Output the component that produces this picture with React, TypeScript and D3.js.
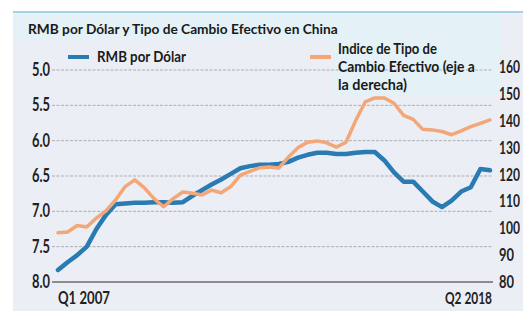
import React from "react";
import * as d3 from "d3";

// quarters Q1 2007 .. Q2 2018 (46 points)
const quarters: string[] = [];
for (let y = 2007; y <= 2018; y++) {
    for (let q = 1; q <= 4; q++) {
        if (y === 2018 && q > 2) break;
        quarters.push(`Q${q} ${y}`);
    }
}

// RMB per USD (left axis, inverted)
const rmbPerDollar = [
    7.83, 7.72, 7.62, 7.5, 7.25, 7.05, 6.9, 6.89, 6.88, 6.88,
    6.87, 6.87, 6.88, 6.87, 6.78, 6.7, 6.62, 6.55, 6.47, 6.39,
    6.36, 6.34, 6.34, 6.33, 6.3, 6.24, 6.2, 6.17, 6.17, 6.19,
    6.19, 6.17, 6.16, 6.16, 6.28, 6.45, 6.58, 6.58, 6.72, 6.86,
    6.94, 6.85, 6.72, 6.66, 6.4, 6.42,
];

// effective exchange rate index (right axis)
const effectiveRate = [
    98.3, 98.6, 101.0, 100.5, 103.8, 106.5, 110.5, 115.5, 118.0, 115.0,
    111.0, 108.0, 111.0, 113.5, 113.0, 112.4, 114.2, 113.2, 115.5, 119.8,
    121.2, 122.5, 122.8, 122.4, 126.5, 130.0, 132.0, 132.5, 131.8, 130.2,
    132.0, 140.0, 147.0, 148.5, 148.5, 146.5, 142.0, 140.5, 136.8, 136.6,
    136.0, 134.8, 136.2, 137.8, 139.0, 140.3,
];

const leftTicks = [5.0, 5.5, 6.0, 6.5, 7.0, 7.5, 8.0];
const rightTicks = [160, 150, 140, 130, 120, 110, 100, 90, 80];
const xLabels = ["Q1 2007", "Q2 2018"];

const title = "RMB por Dólar y Tipo de Cambio Efectivo en China";
const legendBlue = "RMB por Dólar";
const legendOrange = ["Indice de Tipo de", "Cambio Efectivo (eje a", "la derecha)"];

const BLUE = "#2a7bb2";
const ORANGE = "#f3a676";
const FONT = "Lato, 'Open Sans', sans-serif";

const W = 523;
const H = 311;

type Sel = d3.Selection<any, any, any, any>;

// bold text squeezed horizontally to a target width (the original uses a narrow font)
const narrowText = (parent: Sel, str: string, x: number, y: number, size: number, width: number, fill = "#222") => {
    const g = parent.append("g");
    const t = g.append("text")
        .attr("font-family", FONT).attr("font-weight", 700).attr("font-size", size)
        .attr("fill", fill)
        .text(str);
    const natural = (t.node() as SVGTextElement).getComputedTextLength() || width;
    g.attr("transform", `translate(${x},${y}) scale(${width / natural},1)`);
    return g;
};

const App = () => {
    const svgRef = React.useRef<SVGSVGElement>(null);

    React.useEffect(() => {
        const svg = d3.select(svgRef.current);
        svg.selectAll("*").remove();

        const x = d3.scaleLinear().domain([0, quarters.length - 1]).range([58, 490]);
        const yL = d3.scaleLinear().domain([5, 8]).range([70, 282]);
        const yR = d3.scaleLinear().domain([80, 160]).range([282, 67]);
        const gridX0 = 52;
        const gridX1 = 493;

        // panel background
        svg.append("rect").attr("width", W).attr("height", H).attr("fill", "#ffffff");
        svg.append("rect")
            .attr("x", 13).attr("y", 12).attr("width", W - 13).attr("height", H - 12)
            .attr("fill", "#eceef6");
        svg.append("rect")
            .attr("x", 13).attr("y", 12).attr("width", 489).attr("height", 28)
            .attr("fill", "#e4f1f6");
        svg.append("rect")
            .attr("x", 334).attr("y", 38).attr("width", 168).attr("height", 57)
            .attr("fill", "#e4f1f6");
        svg.append("line")
            .attr("x1", 13).attr("x2", W).attr("y1", 12).attr("y2", 12)
            .attr("stroke", "#a6d2e6").attr("stroke-width", 2);

        // gridlines
        svg.append("g")
            .selectAll("line")
            .data(leftTicks.slice(0, -1))
            .join("line")
            .attr("x1", gridX0).attr("x2", gridX1)
            .attr("y1", (d) => yL(d)).attr("y2", (d) => yL(d))
            .attr("stroke", "#adadb3").attr("stroke-width", 1)
            .attr("stroke-dasharray", "3,1.5");
        svg.append("line")
            .attr("x1", gridX0).attr("x2", gridX1)
            .attr("y1", yL(8)).attr("y2", yL(8))
            .attr("stroke", "#8c8c90").attr("stroke-width", 2);

        // tick labels
        const ticks = svg.append("g");
        leftTicks.forEach((d) => narrowText(ticks, d.toFixed(1), 32, yL(d) + 6, 18, 18));
        rightTicks.forEach((d) => narrowText(ticks, `${d}`, 499, yR(d) + 6, 17, d >= 100 ? 21 : 15));

        // x labels
        narrowText(svg, xLabels[0], x(0), 304, 17, 52);
        narrowText(svg, xLabels[1], 445, 304, 17, 47);

        // lines
        const blueLine = d3.line<number>()
            .x((_, i) => x(i))
            .y((d) => yL(d));
        const orangeLine = d3.line<number>()
            .x((_, i) => x(i))
            .y((d) => yR(d));
        svg.append("path")
            .attr("d", blueLine(rmbPerDollar))
            .attr("fill", "none").attr("stroke", BLUE)
            .attr("stroke-width", 4.5).attr("stroke-linejoin", "round").attr("stroke-linecap", "round");
        svg.append("path")
            .attr("d", orangeLine(effectiveRate))
            .attr("fill", "none").attr("stroke", ORANGE)
            .attr("stroke-width", 3.5).attr("stroke-linejoin", "round").attr("stroke-linecap", "round");

        // title
        narrowText(svg, title, 28, 34, 13.5, 310, "#1a1a1a");

        // legend
        svg.append("line")
            .attr("x1", 68).attr("x2", 89).attr("y1", 57).attr("y2", 57)
            .attr("stroke", BLUE).attr("stroke-width", 4);
        narrowText(svg, legendBlue, 97, 62, 15, 89, "#1a1a1a");
        svg.append("line")
            .attr("x1", 310).attr("x2", 331).attr("y1", 57).attr("y2", 57)
            .attr("stroke", ORANGE).attr("stroke-width", 4);
        const widths = [99, 137, 69];
        legendOrange.forEach((d, i) => narrowText(svg, d, 338, 54 + i * 18, 15, widths[i], "#1a1a1a"));
    }, []);

    return (
        <svg
            ref={svgRef}
            width={W}
            height={H}
            style={{ position: "absolute", left: 0, top: 0 }}
        />
    );
};

export default App;
